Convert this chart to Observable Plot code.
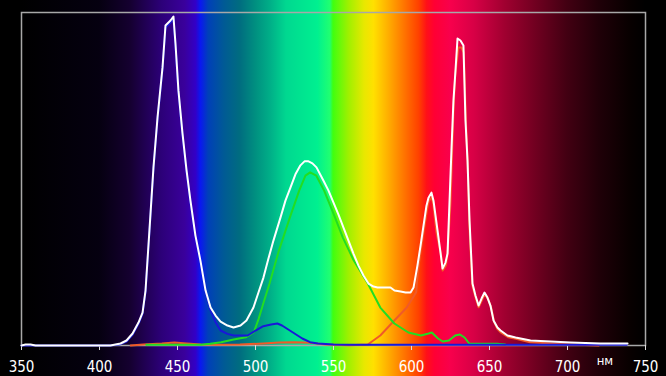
<!DOCTYPE html>
<html>
<head>
<meta charset="utf-8">
<script src="https://cdn.jsdelivr.net/npm/d3@7"></script>
<script src="https://cdn.jsdelivr.net/npm/@observablehq/plot@0.6"></script>
<style>
  html, body { margin: 0; padding: 0; background: #000; }
  #chart svg { display: block; }
</style>
</head>
<body>
<div id="chart"></div>
<script>
// Tick labels
const xTicks = [350, 400, 450, 500, 550, 600, 650, 700, 750];
const unitLabel = "нм";

// Spectrum background stops (nm, colour)
const bgNm =    [350, 400, 420, 440, 455, 462, 465, 470, 480, 490, 500, 510, 520, 540, 548, 550, 560, 570, 576, 585, 595, 605, 610, 615, 625, 640, 660, 680, 700, 720, 740, 750];
const bgColor = ["#000000","#050010","#150030","#2c0078","#3a009c","#3200c8","#0a18f0","#0040b8","#005a95","#006c80","#008f80","#00b088","#00d890","#00f090","#20ff70","#40ff10","#a0f000","#e8e800","#ffe000","#ffb000","#ff7800","#ff4000","#ff1018","#ff0034","#f8004c","#d80046","#a00030","#700020","#420012","#200008","#080000","#000000"];

// White (total) spectrum
const whiteNm  = [350,352.6,355.8,359,407,413.5,417.3,421.2,425,427.6,429.5,432,434.6,437.2,440.4,442.3,445.5,447.4,448.7,450.6,453.2,455.8,458.3,461.5,464.7,468,471.2,474.4,477.6,482,485.9,490.4,494.2,498.7,501.9,505.1,508.3,511.5,516,519.2,522.4,525.6,528.8,531.4,534,536.5,539.1,543.6,546.8,550,553.2,556.4,559.6,562.8,566,569.2,572.4,575.6,578.2,583.3,586.5,589.1,593,596.2,599.4,601.3,603.8,605.8,607.7,609.6,610.9,612.8,614.1,615.4,616.7,618.6,619.9,621.8,623.1,624.4,625.6,626.9,628.2,629.5,631.4,633.3,634.6,635.9,637.2,639.1,641,643,644.9,646.8,648.7,650.6,652.6,655.1,657.1,661.5,666.7,676.3,689.1,702,721,738.5];
const whiteVal = [0,0.3,0.3,0,0,0.6,1.5,3.6,6.9,9.9,16.5,34.5,53.5,68.5,83.5,96.1,97.6,98.8,90.7,76.6,63.7,52.6,43.5,33,25.5,16.5,11.4,9,7.2,6,5.4,6,7.5,11.4,15.9,20.4,26.1,31.5,38.4,43.5,47.4,51.4,54.1,55.3,55.3,54.7,53.5,49.5,46.5,42.9,39.3,35.4,31.5,27.6,24,21,18.6,17.7,17.4,17.4,17.4,16.5,16.2,15.9,15.9,17.4,24,30,36,42,44.4,45.9,43.5,39,34.5,27.9,23.1,24.9,27.6,43.5,58.6,73.6,82.6,92.2,91.6,90.1,67.6,55.6,37.5,18.6,15,12,14.1,15.9,14.4,12,7.5,5.4,4.5,3,2.4,1.5,1.2,0.9,0.6,0.6];

// Blue component
const blueNm  = [350,407,413.5,417.3,421.2,425,427.6,429.5,432,434.6,437.2,440.4,442.3,445.5,447.4,448.7,450.6,453.2,455.8,458.3,461.5,464.7,468,471.2,474.4,477.6,482,486,490,495,500,505,510,514,517,520,525,530,535,540,550,560,738];
const blueVal = [0,0,0.4,1.2,3.2,6.5,9.5,16,34,53,68,83,95.5,97,98.2,90,76,63,52,43,32.5,25,16,10.5,7,4.5,3.5,3,3,3,4.5,5.8,6.3,6.6,6,5.1,3.6,2.1,1,0.6,0.3,0.2,0.2];

// Green component
const greenNm  = [430,465,471,478,486,494,499,502,505,509,515,522,528,532,535,539,544,550,556,563,572,580,589,598,606,611,613,617,620,624,628,631,634,637,645,655,660];
const greenVal = [0.2,0.2,0.5,1,1.8,2.5,4,8,12.6,18.6,28.5,38.4,46.5,51,52,51,46.5,39.6,32.4,25.5,18.6,11.4,6.6,3.9,3,3.6,3.9,2.1,1.2,1.5,3,3.3,2.4,0.6,0.5,0.5,0.3];

// Red component
const redNm  = [420,428,440,448,456,465,475,490,505,515,525,535,545,560,572,580,589,597,603,604,606,608,610,611,613,614,616,619,620,622,623,625,626,627,628,630,632,633.5,635,636,637,639,641,643,645,647,649,651,653,655,657,662,667,676,689,702,720];
const redVal = [0,0.3,0.6,0.9,0.6,0.3,0.2,0.3,0.6,0.9,1,0.8,0.3,0.1,0.3,3,7.5,11.4,16,22,29,35,41,43.4,44.5,42.5,34,27,22.5,24,27,43,58,72,81,89.5,89.5,88,66,55,37,18,14.5,11.5,13.5,15.5,14,11.5,7,5,4,2.5,2,1,0.6,0.3,0];

const toRows = (nm, val) => nm.map((x, i) => ({nm: x, v: val[i]}));
const white = toRows(whiteNm, whiteVal);
const blue = toRows(blueNm, blueVal);
const green = toRows(greenNm, greenVal);
const red = toRows(redNm, redVal);

const W = 666, H = 376;

// Background spectrum gradient positioned through the x scale
function spectrumBackground(index, scales, values, dimensions) {
  const ns = "http://www.w3.org/2000/svg";
  const g = document.createElementNS(ns, "g");
  const defs = document.createElementNS(ns, "defs");
  const lg = document.createElementNS(ns, "linearGradient");
  lg.setAttribute("id", "spectrum-grad");
  lg.setAttribute("gradientUnits", "userSpaceOnUse");
  lg.setAttribute("x1", scales.x(bgNm[0]));
  lg.setAttribute("x2", scales.x(bgNm[bgNm.length - 1]));
  lg.setAttribute("y1", 0);
  lg.setAttribute("y2", 0);
  const span = bgNm[bgNm.length - 1] - bgNm[0];
  bgNm.forEach((n, i) => {
    const s = document.createElementNS(ns, "stop");
    s.setAttribute("offset", ((n - bgNm[0]) / span).toFixed(4));
    s.setAttribute("stop-color", bgColor[i]);
    lg.appendChild(s);
  });
  defs.appendChild(lg);
  g.appendChild(defs);
  const r = document.createElementNS(ns, "rect");
  r.setAttribute("x", 0);
  r.setAttribute("y", 0);
  r.setAttribute("width", dimensions.width);
  r.setAttribute("height", dimensions.height);
  r.setAttribute("fill", "url(#spectrum-grad)");
  g.appendChild(r);
  return g;
}

const chart = Plot.plot({
  width: W,
  height: H,
  marginLeft: 21,
  marginRight: 21,
  marginTop: 12,
  marginBottom: 31,
  style: {background: "#000", color: "#fff", fontFamily: "'Liberation Sans Narrow', 'Arial Narrow', 'DejaVu Sans Condensed', sans-serif"},
  x: {domain: [350, 750]},
  y: {domain: [0, 100], axis: null},
  marks: [
    spectrumBackground,
    Plot.frame({stroke: "#a8a8a8", strokeWidth: 1.5}),
    Plot.axisX({ticks: xTicks, tickSize: 5, tickPadding: 11, stroke: "#e0e0e0", fill: "#fff", fontSize: 15, tickFormat: d => String(d), label: null}),
    Plot.line(red, {x: "nm", y: "v", stroke: "#f05a28", strokeWidth: 2}),
    Plot.line(green, {x: "nm", y: "v", stroke: "#22dd22", strokeWidth: 2}),
    Plot.line(blue, {x: "nm", y: "v", stroke: "#1818d8", strokeWidth: 2}),
    Plot.line(white, {x: "nm", y: "v", stroke: "#ffffff", strokeWidth: 2}),
    Plot.text([{nm: 724, label: unitLabel}], {x: "nm", y: () => 0, text: "label", dy: 15, fill: "#fff", fontSize: 13})
  ]
});
document.getElementById("chart").appendChild(chart);
</script>
</body>
</html>
